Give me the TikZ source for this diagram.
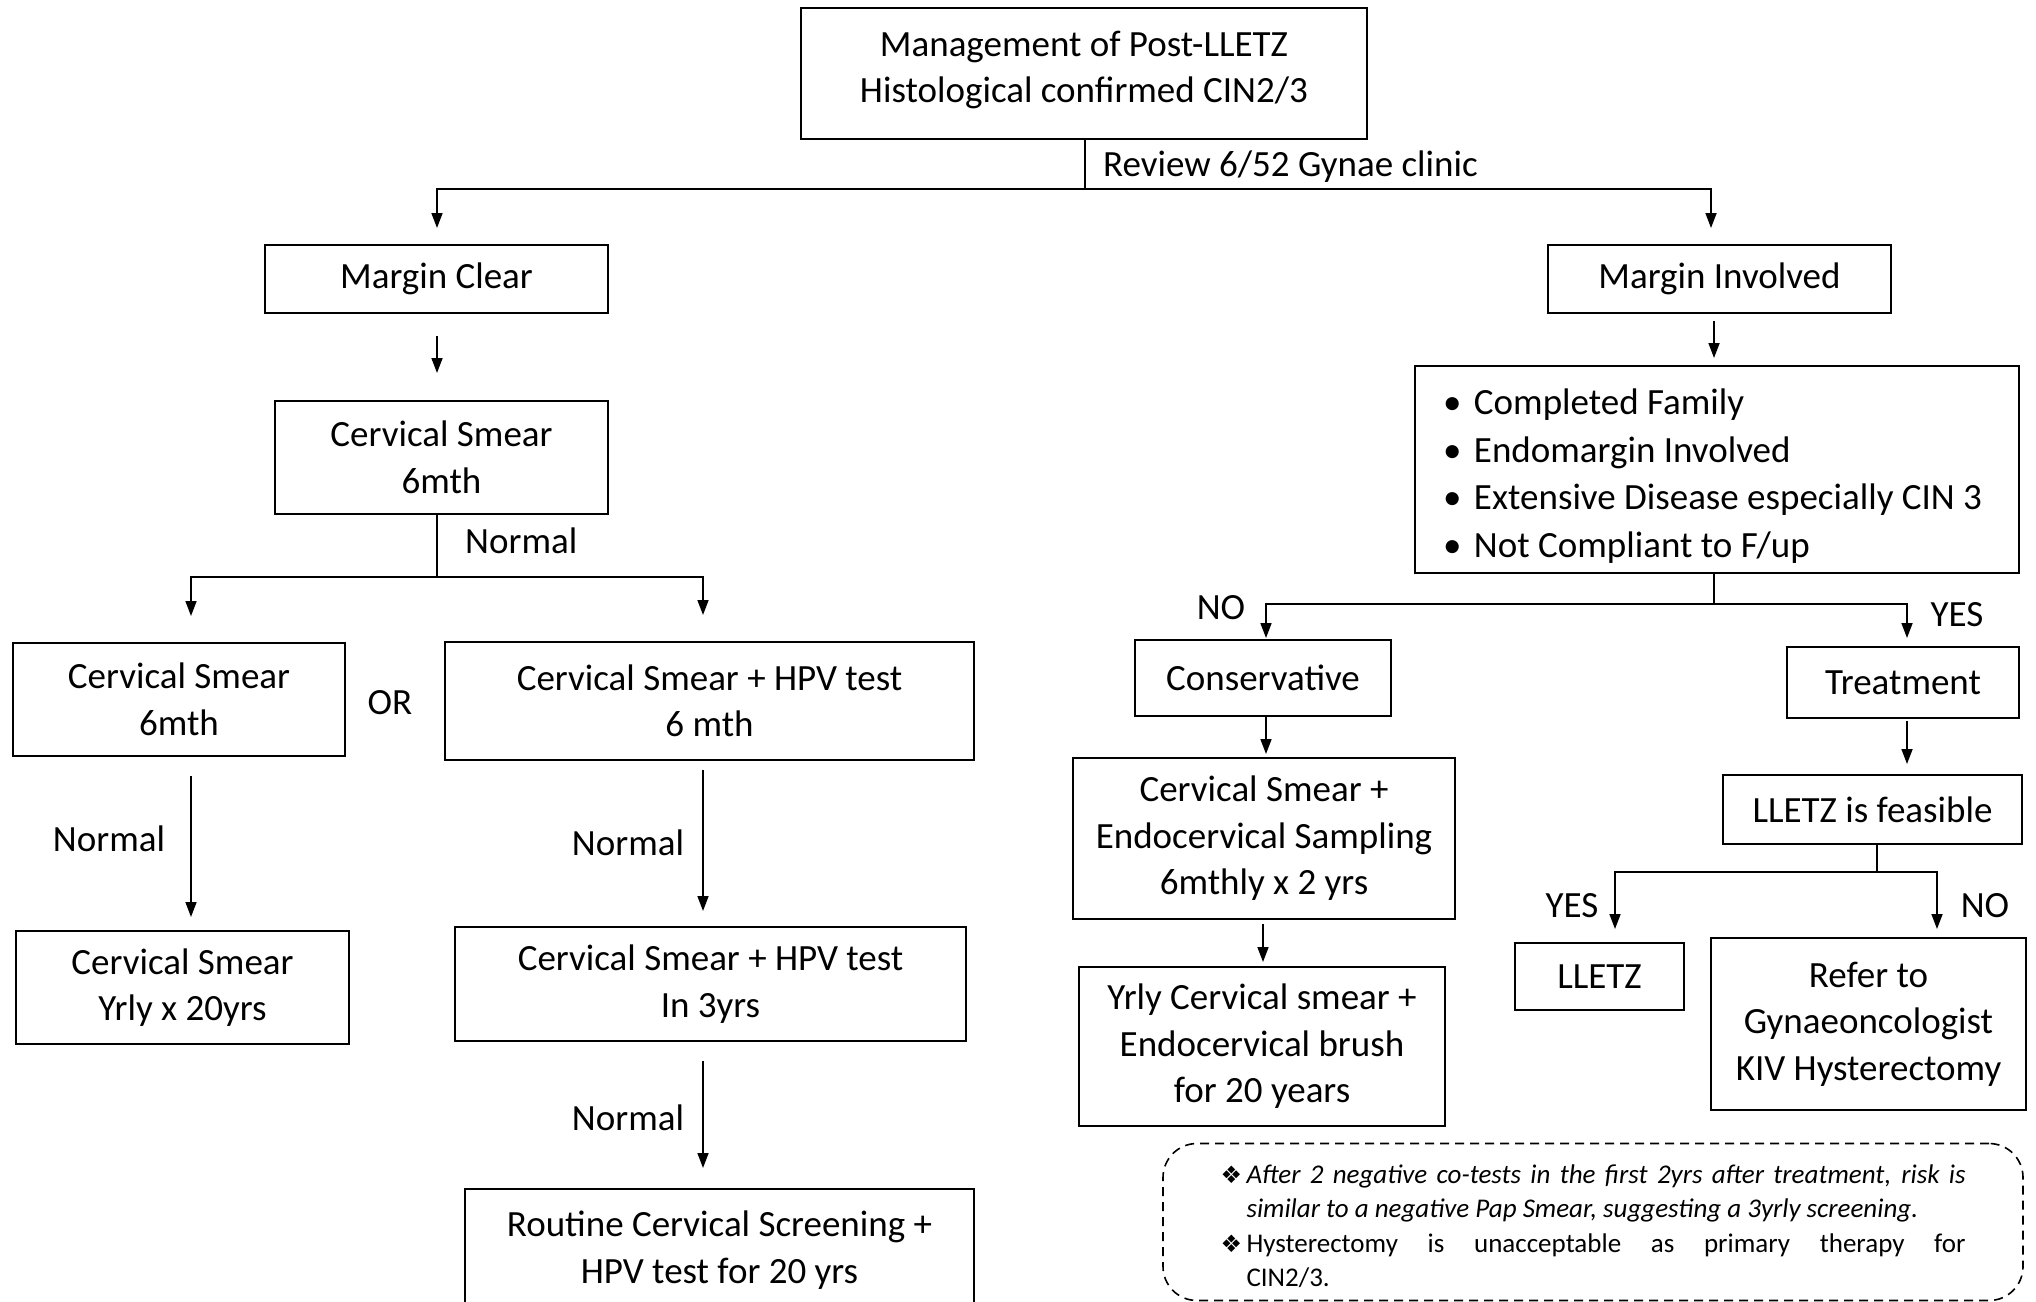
\documentclass[tikz,border=0pt]{standalone}
\usepackage{fontspec}
\setmainfont{Carlito}
\newfontfamily\symfont{DejaVu Sans}
\usetikzlibrary{arrows.meta}
\newcommand\mainsz{\fontsize{37}{46.5}\selectfont}
\newcommand\listsz{\fontsize{37}{47.5}\selectfont}
\newcommand\notesz{\fontsize{27}{34.5}\selectfont}
\newcommand\notemark{\makebox[26pt][l]{\symfont\fontsize{24}{24}\selectfont ❖}}
\newcommand\bul{\makebox[31pt][l]{•}}

\begin{document}
\begin{tikzpicture}[x=1pt,y=-1pt,
  box/.style={draw, line width=2pt, inner sep=0pt, align=center, font=\mainsz},
  lbl/.style={inner sep=0pt, font=\mainsz},
  conn/.style={line width=1.6pt},
  arr/.style={line width=1.6pt, -{Triangle[length=15pt,width=11pt]}}
]
\fill[white] (0,0) rectangle (2036,1301);
\useasboundingbox (0,0) rectangle (2036,1301);

% ---------- boxes ----------
\node[box, minimum width=566pt, minimum height=131pt] (title) at (1084,73.5)
  {Management of Post-LLETZ\\Histological confirmed CIN2/3\\[-33pt]\mbox{}};
\node[box, minimum width=343pt, minimum height=68pt] (mclear) at (436.5,279) {Margin Clear};
\node[box, minimum width=343pt, minimum height=68pt] (minv) at (1719.5,279) {Margin Involved};

\node[box, minimum width=333pt, minimum height=113pt] (cs1) at (441.5,457.5) {Cervical Smear\\6mth};
\node[box, minimum width=332pt, minimum height=113pt] (cs2) at (179,699.5) {Cervical Smear\\6mth};
\node[box, minimum width=529pt, minimum height=118pt] (hpv1) at (709.5,701) {Cervical Smear + HPV test\\6 mth};
\node[box, minimum width=333pt, minimum height=113pt] (cs3) at (182.5,987.5) {Cervical Smear\\Yrly x 20yrs};
\node[box, minimum width=511pt, minimum height=114pt] (hpv2) at (710.5,984) {Cervical Smear + HPV test\\In 3yrs};
\node[box, minimum width=509pt, minimum height=122pt] (routine) at (719.5,1250)
  {Routine Cervical Screening +\\HPV test for 20 yrs};

% criteria list: bullets left-aligned inside the box
\node[draw, line width=2pt, inner sep=0pt, font=\listsz,
      minimum width=604pt, minimum height=207pt] (crit) at (1717,469.5)
  {\parbox{548pt}{\raggedright\vspace*{13pt}%
   \bul Completed Family\\
   \bul Endomargin Involved\\
   \bul Extensive Disease especially CIN 3\\
   \bul Not Compliant to F/up}};

\node[box, minimum width=256pt, minimum height=76pt] (cons) at (1263,678) {Conservative};
\node[box, minimum width=232pt, minimum height=71pt] (treat) at (1903,682.5) {Treatment};
\node[box, minimum width=382pt, minimum height=161pt] (endo) at (1264,838.5)
  {Cervical Smear +\\Endocervical Sampling\\6mthly x 2 yrs};
\node[box, minimum width=366pt, minimum height=159pt] (yrly) at (1262,1046.5)
  {Yrly Cervical smear +\\Endocervical brush\\for 20 years};
\node[box, minimum width=299pt, minimum height=69pt] (feas) at (1872.5,809.5) {LLETZ is feasible};
\node[box, minimum width=169pt, minimum height=67pt] (lletz) at (1599.5,976.5) {LLETZ};
\node[box, minimum width=315pt, minimum height=172pt] (refer) at (1868.5,1024)
  {Refer to\\Gynaeoncologist\\KIV Hysterectomy};

% ---------- note ----------
\node[draw, dashed, dash pattern=on 9pt off 6pt, line width=1.6pt, rounded corners=34pt,
      minimum width=860pt, minimum height=157pt, inner sep=0pt, font=\notesz] (note) at (1593,1222)
  {\parbox{745pt}{\raggedright\vspace*{8pt}%
   \notemark\makebox[719pt][s]{\itshape After 2 negative co-tests in the first 2yrs after treatment, risk is}\\
   \hspace*{26pt}{\itshape similar to a negative Pap Smear, suggesting a 3yrly screening.}\\
   \notemark\makebox[719pt][s]{Hysterectomy is unacceptable as primary therapy for}\\
   \hspace*{26pt}CIN2/3.}};

% ---------- junctions and arrow tips ----------
\coordinate (j1) at (1085,189);
\coordinate (tMC) at (437,228);
\coordinate (tMI) at (1711,228);
\coordinate (j2) at (437,577);
\coordinate (tCS) at (191,616);
\coordinate (tHPV) at (703,615);
\coordinate (xR) at (1714,0);
\coordinate (j3) at (1714,604);
\coordinate (tCons) at (1266,638);
\coordinate (tTreat) at (1907,638);
\coordinate (xE) at (1263,0);
\coordinate (j4) at (1877,872);
\coordinate (tL) at (1615,929);
\coordinate (tRf) at (1937,929);

% ---------- connectors, left branch ----------
\draw[conn] (title.south -| j1) -- (j1);
\draw[arr] (j1) -| (tMC);
\draw[arr] (j1) -| (tMI);
\draw[arr, shorten <=22pt, shorten >=27pt] (mclear.south -| tMC) -- (cs1.north -| tMC);
\draw[conn] (cs1.south -| j2) -- (j2);
\draw[arr] (j2) -| (tCS);
\draw[arr] (j2) -| (tHPV);
\draw[arr, shorten <=19pt, shorten >=13pt] (cs2.south -| tCS) -- (cs3.north -| tCS);
\draw[arr, shorten <=9pt, shorten >=15pt] (hpv1.south -| tHPV) -- (hpv2.north -| tHPV);
\draw[arr, shorten <=19pt, shorten >=20pt] (hpv2.south -| tHPV) -- (routine.north -| tHPV);

% ---------- connectors, right branch ----------
\draw[arr, shorten <=7pt, shorten >=7pt] (minv.south -| xR) -- (crit.north -| xR);
\draw[conn] (crit.south -| xR) -- (j3);
\draw[arr] (j3) -| (tCons);
\draw[arr] (j3) -| (tTreat);
\draw[arr, shorten >=3pt] (cons.south -| tCons) -- (endo.north -| tCons);
\draw[arr, shorten <=2pt, shorten >=10pt] (treat.south -| tTreat) -- (feas.north -| tTreat);
\draw[arr, shorten <=4pt, shorten >=4pt] (endo.south -| xE) -- (yrly.north -| xE);
\draw[conn] (feas.south -| j4) -- (j4);
\draw[arr] (j4) -| (tL);
\draw[arr] (j4) -| (tRf);

% ---------- labels ----------
\node[lbl, anchor=west] (lrev) at (1103,167) {Review 6/52 Gynae clinic};
\node[lbl, anchor=west] (ln1) at (465,541) {Normal};
\node[lbl] (lor) at (390,703) {OR};
\node[lbl] (ln2) at (109,839) {Normal};
\node[lbl] (ln3) at (628,843) {Normal};
\node[lbl] (ln4) at (628,1118) {Normal};
\node[lbl] (lno1) at (1221,608) {NO};
\node[lbl] (lyes1) at (1957,615) {YES};
\node[lbl] (lyes2) at (1572,906) {YES};
\node[lbl] (lno2) at (1985,906) {NO};
\end{tikzpicture}
\end{document}
